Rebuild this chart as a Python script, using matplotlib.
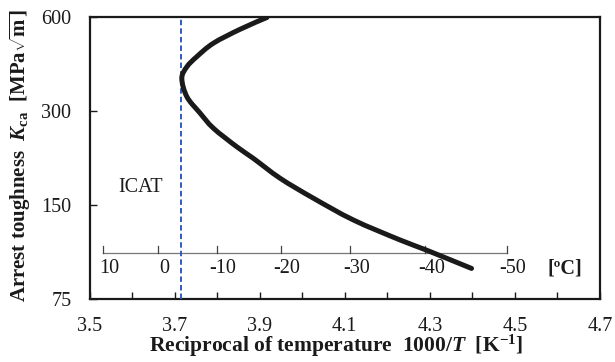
import numpy as np
import matplotlib
matplotlib.use("Agg")
import matplotlib.pyplot as plt
from matplotlib.path import Path
from matplotlib.patches import PathPatch
from matplotlib.transforms import offset_copy

# Kca vs 1000/T curve
inv_temp = [3.917, 3.854, 3.791, 3.752, 3.729, 3.717, 3.729, 3.760, 3.791,
            3.846, 3.885, 3.948, 4.026, 4.120, 4.230, 4.293, 4.398]
kca = [600, 550, 496, 449, 417, 383, 334, 296, 265,
       231, 212, 183, 158, 134.5, 116, 107.5, 94]

# ICAT position on the 1000/T axis
icat_inv_temp = 3.715

# axis ticks
x_major = [3.5, 3.7, 3.9, 4.1, 4.3, 4.5, 4.7]
x_minor = [3.6, 3.8, 4.0, 4.2, 4.4, 4.6]
y_ticks = [75, 150, 300, 600]

# secondary temperature scale in degC
celsius_ticks = [10, 0, -10, -20, -30, -40, -50]
celsius_line_y = 105.4
celsius_tick_top = 110.6
celsius_label_y = 94.3

plt.rcParams["font.family"] = "Liberation Serif"
plt.rcParams["mathtext.fontset"] = "custom"
plt.rcParams["mathtext.rm"] = "Liberation Serif:bold"
plt.rcParams["mathtext.it"] = "Liberation Serif:bold:italic"
plt.rcParams["mathtext.bf"] = "Liberation Serif:bold"


def smooth_path(xs, ys):
    # Catmull-Rom style bezier through the points, worked out in (x, log y)
    # so the curve looks smooth on the log axis
    p = np.column_stack([np.asarray(xs, float), np.log10(ys)])
    p = np.vstack([p[0], p, p[-1]])
    verts = [p[1]]
    codes = [Path.MOVETO]
    for i in range(1, len(p) - 2):
        c1 = p[i] + (p[i + 1] - p[i - 1]) / 6
        c2 = p[i + 1] - (p[i + 2] - p[i]) / 6
        verts += [c1, c2, p[i + 1]]
        codes += [Path.CURVE4] * 3
    verts = np.array(verts)
    verts[:, 1] = 10 ** verts[:, 1]
    return Path(verts, codes)


fig = plt.figure(figsize=(6.15, 3.62), dpi=100)
ax = fig.add_axes([89.5 / 615, 1 - 299 / 362, 510.5 / 615, 281.5 / 362])

ax.set_yscale("log")
ax.set_xlim(3.5, 4.7)
ax.set_ylim(75, 600)

curve = PathPatch(smooth_path(inv_temp, kca), facecolor="none", edgecolor="#1a1a1a",
                  lw=3.6, joinstyle="round", capstyle="round", zorder=4)
ax.add_patch(curve)
ax.axvline(icat_inv_temp, color="#2f5cc0", lw=1.4, ls=(0, (2.8, 1.6)), zorder=3)
ax.text(3.621, 171, "ICAT", fontsize=14.5, ha="center", va="center", color="#1a1a1a")

# degC scale drawn inside the axes
c_pos = [1000 / (c + 273.15) for c in celsius_ticks]
ax.plot([c_pos[0], c_pos[-1]], [celsius_line_y, celsius_line_y], color="#777777", lw=0.9)
for xp in c_pos:
    ax.plot([xp, xp], [celsius_line_y, celsius_tick_top], color="#444444", lw=0.9)
lab_tr = offset_copy(ax.transData, fig=fig, x=6, y=0, units="dots")
for c, xp in zip(celsius_ticks, c_pos):
    ax.text(xp, celsius_label_y, str(c), transform=lab_tr, fontsize=14.5,
            ha="center", va="center", color="#1a1a1a")
ax.text(4.618, celsius_label_y, "[ºC]", fontsize=14.5, fontweight="bold",
        ha="center", va="center", color="#1a1a1a")

ax.set_xticks(x_major)
ax.set_xticklabels([f"{v:.1f}" for v in x_major])
ax.set_xticks(x_minor, minor=True)
ax.set_yticks(y_ticks)
ax.set_yticklabels([str(v) for v in y_ticks])
ax.yaxis.set_minor_locator(matplotlib.ticker.NullLocator())

ax.tick_params(axis="both", which="both", direction="in", labelsize=14.5,
               colors="#1a1a1a", width=1)
ax.tick_params(axis="x", which="both", length=5, pad=13)
ax.tick_params(axis="y", which="major", length=5, pad=13)

for sp in ax.spines.values():
    sp.set_linewidth(1.6)
    sp.set_color("#1a1a1a")

fig.text(336 / 615, 1 - 352 / 362,
         r"Reciprocal of temperature  1000/$T$  [K$^{-1}$]",
         fontsize=15.5, fontweight="bold", ha="center", va="baseline", color="#1a1a1a")
fig.text(20 / 615, 1 - 155 / 362,
         r"Arrest toughness  $K_{\rm ca}$  [MPa$\sqrt{\rm m}$]",
         fontsize=15, fontweight="bold", rotation=90, ha="center", va="center",
         color="#1a1a1a")

fig.savefig("out.png", dpi=100)
